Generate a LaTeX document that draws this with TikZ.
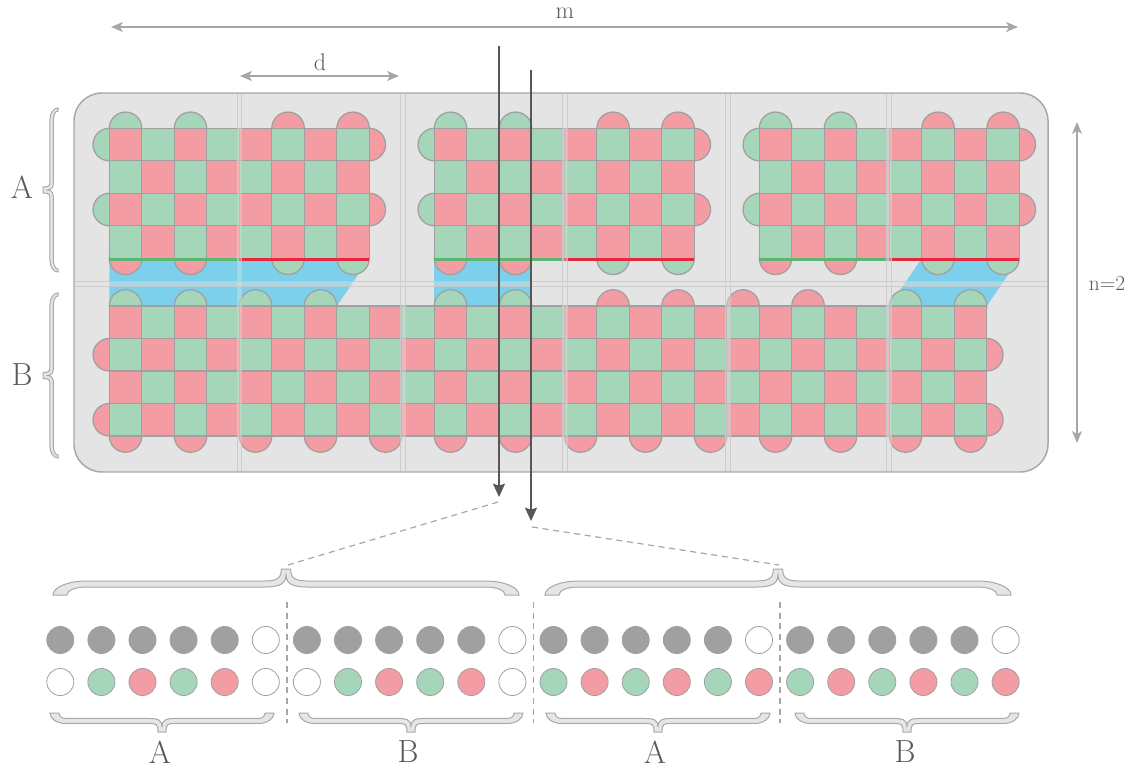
\documentclass[tikz,border=0pt]{standalone}
\usetikzlibrary{arrows.meta}
\definecolor{plate}{HTML}{E4E4E4}
\definecolor{plateline}{HTML}{A8A8A8}
\definecolor{cellline}{HTML}{C8C8C8}
\definecolor{cred}{HTML}{F49CA3}
\definecolor{cgreen}{HTML}{A5D6B9}
\definecolor{cblue}{HTML}{7DD0EB}
\definecolor{gline}{HTML}{5CB66F}
\definecolor{rline}{HTML}{E6283F}
\definecolor{sqline}{HTML}{A0A0A0}
\definecolor{dimgray}{HTML}{A6A6A6}
\definecolor{darkarr}{HTML}{575757}
\definecolor{txt}{HTML}{5A5A5A}
\definecolor{dotgray}{HTML}{A0A0A0}
\definecolor{bracefillc}{HTML}{E6E6E6}
\newcommand\setcc[1]{\pgfmathtruncatemacro\ptmp{mod(#1+1000,2)}\ifnum\ptmp=0 \def\capcol{cred}\else\def\capcol{cgreen}\fi}
\newcommand\bracefill[7]{%
\begin{scope}[shift={(#1,#2)}, rotate=#4]
\pgfmathsetmacro\bL{#3}
\pgfmathsetmacro\ba{#5}
\pgfmathsetmacro\be{#7}
\pgfmathsetmacro\br{0.14*#3}
\pgfmathsetmacro\bq{0.12*#3}
\pgfmathsetmacro\bw{0.6*#6+1}
\pgfmathsetmacro\yo{-0.42*#5-0.5*#6}
\pgfmathsetmacro\yi{-0.42*#5+0.5*#6}
\pgfmathsetmacro\yn{-#5+#6}
\filldraw[bracestyle]
 (-\bL,0) .. controls (-\bL,0.55*\yo) and (-\bL+0.45*\br,\yo) .. (-\bL+\br,\yo)
 -- (-\bq,\yo) .. controls (-0.45*\bq,\yo) and (-\bw,\yo) .. (-\bw,-\ba)
 -- (\bw,-\ba) .. controls (\bw,\yo) and (0.45*\bq,\yo) .. (\bq,\yo)
 -- (\bL-\br,\yo) .. controls (\bL-0.45*\br,\yo) and (\bL,0.55*\yo) .. (\bL,0)
 -- (\bL-\be,0) .. controls (\bL-\be,0.55*\yi) and (\bL-\be-0.4*\br+0.4*\be,\yi) .. (\bL-\br,\yi)
 -- (\bq,\yi) .. controls (0.45*\bq,\yi) and (0,\yi) .. (0,\yn)
 .. controls (0,\yi) and (-0.45*\bq,\yi) .. (-\bq,\yi)
 -- (-\bL+\br,\yi) .. controls (-\bL+\be+0.4*\br-0.4*\be,\yi) and (-\bL+\be,0.55*\yi) .. (-\bL+\be,0)
 -- cycle;
\end{scope}}
\begin{document}
\begin{tikzpicture}[x=0.75pt,y=-0.75pt,
  sqs/.style={draw=sqline, line width=0.95pt},
  bracestyle/.style={fill=bracefillc, draw=plateline, line width=0.75pt},
  dimarrow/.style={draw=dimgray, line width=1.1pt, {Stealth[length=9pt,width=7.5pt,inset=2.5pt]}-{Stealth[length=9pt,width=7.5pt,inset=2.5pt]}},
  darrow/.style={draw=darkarr, line width=1.1pt, -{Stealth[length=10pt,width=9pt,inset=1.5pt]}},
  dashline/.style={draw=dimgray, line width=0.9pt, dash pattern=on 4.5pt off 3.5pt},
  lbl/.style={text=txt, inner sep=0pt},
  bigl/.style={lbl, font=\fontsize{24}{28}\selectfont},
  smalll/.style={lbl, font=\fontsize{18}{22}\selectfont},
  dot/.style={circle, minimum size=20.3pt, inner sep=0pt, draw=sqline, line width=0.6pt}]
\useasboundingbox (0,0) rectangle (1141,771);

% plate
\draw[fill=plate, draw=plateline, line width=1.1pt, rounded corners=21pt] (74,93) rectangle (1048,472);

% blue connections
\fill[cblue] (109.3,258.3) -- (369.3,258.3) -- (336.8,306) -- (109.3,306) -- cycle;
\fill[cblue] (434.3,258.3) rectangle (531.8,306);
\fill[cblue] (921.8,258.3) -- (1019.3,258.3) -- (986.8,306) -- (889.3,306) -- cycle;

% top blocks (A)
\foreach \xo in {109.3,434.3,759.3}{
  \foreach \j in {0,2,5,7}{
    \setcc{\j-1}
    \filldraw[sqs, fill=\capcol] (\xo+\j*32.5+16.25,128.3) circle (16.25);
    \setcc{\j+4}
    \filldraw[sqs, fill=\capcol] (\xo+\j*32.5+16.25,258.3) circle (16.25);
  }
  \foreach \i in {0,2}{
    \setcc{\i-1}
    \filldraw[sqs, fill=\capcol] (\xo,128.3+\i*32.5+16.25) circle (16.25);
    \setcc{\i+8}
    \filldraw[sqs, fill=\capcol] (\xo+260,128.3+\i*32.5+16.25) circle (16.25);
  }
  \foreach \i in {0,...,3}{\foreach \j in {0,...,7}{
    \setcc{\i+\j}
    \filldraw[sqs, fill=\capcol] (\xo+\j*32.5,128.3+\i*32.5) rectangle ++(32.5,32.5);
  }}
  \draw[gline, line width=2.8pt] (\xo,259.6) -- (\xo+130,259.6);
  \draw[rline, line width=2.8pt] (\xo+130,259.6) -- (\xo+260,259.6);
}

% bottom block (B)
\foreach \j in {0,2,4,6,10,12,15,17,19,21,24,26}{
  \setcc{\j-1}
  \filldraw[sqs, fill=\capcol] (109.3+\j*32.5+16.25,306) circle (16.25);
}
\foreach \j in {0,2,...,26}{
  \setcc{\j+4}
  \filldraw[sqs, fill=\capcol] (109.3+\j*32.5+16.25,436) circle (16.25);
}
\foreach \i in {1,3}{
  \setcc{\i-1}
  \filldraw[sqs, fill=\capcol] (109.3,306+\i*32.5+16.25) circle (16.25);
  \setcc{\i+27}
  \filldraw[sqs, fill=\capcol] (986.8,306+\i*32.5+16.25) circle (16.25);
}
\foreach \i in {0,...,3}{\foreach \j in {0,...,26}{
  \setcc{\i+\j}
  \filldraw[sqs, fill=\capcol] (109.3+\j*32.5,306+\i*32.5) rectangle ++(32.5,32.5);
}}

% well separators
\foreach \a/\b in {237/241,400/405,562/567,725/730,886/891}{
  \fill[plate, opacity=0.4] (\a,93.6) rectangle (\b,471.4);
  \draw[cellline, line width=0.75pt, opacity=0.85] (\a,93.6) -- (\a,471.4) (\b,93.6) -- (\b,471.4);
}
\fill[plate, opacity=0.4] (74.6,281) rectangle (1047.4,286);
\draw[cellline, line width=0.75pt, opacity=0.85] (74.6,281) -- (1047.4,281) (74.6,286) -- (1047.4,286);

% dimension arrows
\coordinate (mL) at (111,27); \coordinate (mR) at (1018,27);
\draw[dimarrow] (mL) -- (mR);
\node[smalll] (mlab) at (565,13) {m};
\coordinate (dL) at (240,76); \coordinate (dR) at (399,76);
\draw[dimarrow] (dL) -- (dR);
\node[smalll] (dlab) at (320,62) {d};
\coordinate (nT) at (1077,122); \coordinate (nB) at (1077,443);
\draw[dimarrow] (nT) -- (nB);
\node[lbl, font=\fontsize{16}{20}\selectfont] (nlab) at (1107,283) {n=2};

% left braces and labels
\bracefill{58}{190}{82}{90}{15}{3.5}{3}
\bracefill{58}{375.5}{82.5}{90}{15}{3.5}{3}
\node[bigl] (lA) at (22,187) {A};
\node[bigl] (lB) at (22,375) {B};

% cut arrows
\coordinate (c1s) at (499,46); \coordinate (c1e) at (499,497);
\coordinate (c2s) at (531,70); \coordinate (c2e) at (531,521);
\draw[darrow] (c1s) -- (c1e);
\draw[darrow] (c2s) -- (c2e);

% big braces
\bracefill{286}{595}{233}{0}{26}{6}{14}
\bracefill{778}{595}{233}{0}{26}{6}{14}
\coordinate (t1) at (288,565); \coordinate (t2) at (779,565);
\coordinate (c1d) at (498,502); \coordinate (c2d) at (532,527);
\draw[dashline] (c1d) -- (t1);
\draw[dashline] (c2d) -- (t2);

% dots
\foreach \k in {0,...,23}{
  \pgfmathsetmacro\dx{60.3+41.1*\k}
  \pgfmathtruncatemacro\dgrp{int(\k/6)}
  \pgfmathtruncatemacro\dpos{mod(\k,6)}
  \ifnum\dpos=5 \def\topc{white}\else\def\topc{dotgray}\fi
  \ifnum\dgrp<2
    \ifnum\dpos=0 \def\botc{white}\else
      \ifnum\dpos=5 \def\botc{white}\else
        \ifodd\dpos \def\botc{cgreen}\else\def\botc{cred}\fi
      \fi
    \fi
  \else
    \ifodd\dpos \def\botc{cred}\else\def\botc{cgreen}\fi
  \fi
  \node[dot, fill=\topc] (g\k) at (\dx,640) {};
  \node[dot, fill=\botc] (c\k) at (\dx,682) {};
}
\foreach \xs in {287,533.5,780}{
  \draw[dashline] (\xs,602) -- (\xs,723);
}

% small braces and labels
\bracefill{162}{713}{112}{180}{19}{5}{9}
\bracefill{411}{713}{112}{180}{19}{5}{9}
\bracefill{658}{713}{112}{180}{19}{5}{9}
\bracefill{907}{713}{112}{180}{19}{5}{9}
\node[bigl] (bA1) at (160,752) {A};
\node[bigl] (bB1) at (408,752) {B};
\node[bigl] (bA2) at (655,752) {A};
\node[bigl] (bB2) at (905,752) {B};
\end{tikzpicture}
\end{document}
